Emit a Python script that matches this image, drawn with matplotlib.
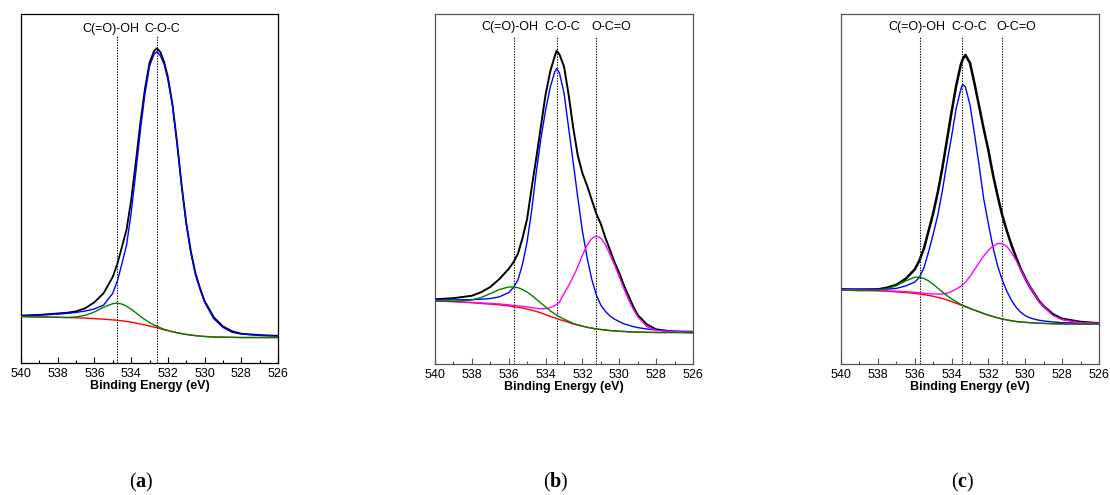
"""O 1s XPS fits, three panels (a), (b), (c): measured envelope + fitted components."""
import matplotlib

matplotlib.use("Agg")
import matplotlib.pyplot as plt
from matplotlib.ticker import MultipleLocator

plt.rcParams["font.family"] = ["Liberation Sans", "DejaVu Sans"]
plt.rcParams["mathtext.fontset"] = "custom"
plt.rcParams["mathtext.rm"] = "Liberation Serif"
plt.rcParams["mathtext.bf"] = "Liberation Serif:bold"

# ---- panel (a) ------------------------------------------------------------
E_A = [540, 539, 538, 537.5, 537, 536.5, 536, 535.5, 535, 534.75, 534.5, 534.25,
       534, 533.75, 533.5, 533.25, 533, 532.75, 532.6, 532.4, 532.2, 532, 531.75,
       531.5, 531.25, 531, 530.75, 530.5, 530.25, 530, 529.5, 529, 528.5, 528,
       527, 526]
A_RAW = [13.6, 13.8, 14.2, 14.4, 14.8, 15.7, 17.4, 20.0, 24.7, 28.4, 33.3, 38.2,
         46.7, 57.4, 68.7, 78.5, 86.0, 89.4, 90.2, 89.0, 86.2, 82.0, 74.2, 63.3,
         51.0, 40.3, 32.1, 25.8, 21.5, 17.8, 13.1, 10.5, 9.1, 8.4, 8.0, 7.8]
A_COC = [13.5, 13.7, 14.0, 14.2, 14.5, 14.9, 15.5, 16.6, 20.0, 23.5, 28.5, 33.8,
         43.0, 54.4, 66.5, 77.0, 85.0, 88.5, 89.2, 88.0, 85.5, 81.2, 73.7, 62.8,
         50.5, 39.8, 31.6, 25.3, 21.1, 17.4, 12.7, 10.2, 8.8, 8.3, 7.9, 7.7]
A_COOH = [13.3, 13.2, 13.11, 13.06, 13.21, 13.66, 14.62, 15.99, 17.01, 17.15, 16.89,
          16.28, 15.44, 14.42, 13.4, 12.43, 11.59, 10.9, 10.53, 10.06, 9.65, 9.34,
          8.99, 8.67, 8.4, 8.2, 8.0, 7.85, 7.7, 7.6, 7.45, 7.4, 7.35, 7.3, 7.3, 7.3]
A_BG = [13.3, 13.2, 13.1, 13.0, 12.95, 12.85, 12.7, 12.55, 12.35, 12.25, 12.1, 11.9,
        11.7, 11.45, 11.2, 10.9, 10.6, 10.3, 10.1, 9.8, 9.5, 9.25, 8.95, 8.65, 8.4,
        8.2, 8.0, 7.85, 7.7, 7.6, 7.45, 7.4, 7.35, 7.3, 7.3, 7.3]
A_LINES = [534.75, 532.6]
A_LABELS = ["C(=O)-OH", "C-O-C"]
A_LABEL_X = [535.1, 532.3]

# ---- panels (b) and (c) share one energy grid --------------------------------
E_BC = [540, 539, 538, 537.5, 537, 536.5, 536, 535.75, 535.5, 535.25, 535, 534.75,
        534.5, 534.25, 534, 533.75, 533.5, 533.4, 533.25, 533, 532.75, 532.5,
        532.25, 532, 531.75, 531.5, 531.25, 531, 530.75, 530.5, 530.25, 530,
        529.75, 529.5, 529.25, 529, 528.5, 528, 527, 526]

B_RAW = [18.5, 18.8, 19.5, 20.5, 22.0, 24.3, 27.2, 29.0, 31.5, 36.0, 41.5, 50.5,
         59.0, 68.0, 77.0, 83.5, 88.0, 89.5, 88.5, 85.0, 77.0, 67.5, 59.5, 54.5,
         51.0, 47.0, 43.0, 40.0, 36.0, 32.5, 29.0, 26.0, 22.5, 19.5, 16.5, 14.0,
         11.3, 9.9, 9.2, 9.0]
B_COC = [18.3, 18.3, 18.4, 18.5, 18.7, 19.2, 20.4, 21.8, 24.0, 28.5, 35.0, 44.0,
         55.0, 64.5, 72.5, 79.0, 83.5, 84.4, 83.2, 77.5, 67.5, 57.5, 47.5, 38.0,
         30.5, 24.3, 19.8, 16.8, 15.0, 13.7, 12.8, 12.1, 11.5, 11.1, 10.7, 10.4,
         10.0, 9.7, 9.4, 9.3]
B_COOH = [18.0, 17.9, 18.3, 19.0, 20.1, 21.3, 22.0, 22.0, 21.8, 21.3, 20.5, 19.6,
          18.5, 17.4, 16.3, 15.2, 14.3, 14.0, 13.5, 12.8, 12.2, 11.6, 11.2, 10.85,
          10.5, 10.25, 10.0, 9.85, 9.7, 9.55, 9.45, 9.35, 9.3, 9.2, 9.15, 9.1,
          9.05, 9.0, 9.0, 9.0]
B_OCO = [18.05, 17.9, 17.6, 17.45, 17.3, 17.15, 16.9, 16.75, 16.6, 16.5, 16.3,
         16.1, 15.9, 15.8, 15.8, 16.1, 16.7, 17.0, 17.7, 20.1, 22.4, 24.95, 27.8,
         31.1, 33.9, 35.85, 36.6, 35.95, 34.1, 31.15, 28.25, 24.85, 21.5, 18.4,
         15.75, 13.5, 10.65, 9.6, 9.2, 9.1]
B_BG = [18.0, 17.8, 17.5, 17.3, 17.1, 16.9, 16.6, 16.4, 16.2, 16.0, 15.7, 15.4,
        15.0, 14.6, 14.1, 13.6, 13.2, 13.0, 12.7, 12.3, 11.9, 11.45, 11.1, 10.8,
        10.5, 10.25, 10.0, 9.85, 9.7, 9.55, 9.45, 9.35, 9.3, 9.2, 9.15, 9.1, 9.05,
        9.0, 9.0, 9.0]
B_LINES = [535.7, 533.4, 531.25]
B_LABEL_X = [535.93, 533.08, 530.42]

C_RAW = [21.3, 21.2, 21.3, 21.8, 22.6, 24.3, 27.0, 29.5, 33.0, 38.0, 43.0, 49.0,
         56.0, 64.0, 72.0, 79.5, 85.5, 87.0, 88.3, 86.0, 80.0, 73.5, 67.0, 61.0,
         54.0, 48.0, 42.5, 38.0, 34.0, 30.5, 27.2, 24.5, 22.0, 20.0, 18.0, 16.5,
         14.2, 12.9, 12.0, 11.6]
C_COC = [21.4, 21.4, 21.4, 21.4, 21.6, 22.3, 23.4, 24.7, 27.5, 32.0, 37.0, 42.5,
         49.5, 57.5, 65.0, 73.0, 78.5, 79.9, 79.2, 74.0, 65.5, 56.5, 47.0, 40.0,
         33.3, 28.0, 24.0, 20.8, 18.2, 16.2, 14.8, 13.8, 13.2, 12.8, 12.5, 12.3,
         12.0, 11.8, 11.7, 11.6]
C_COOH = [21.1, 21.0, 21.1, 21.5, 22.4, 23.7, 24.8, 24.8, 24.45, 23.75, 22.8, 21.7,
          20.6, 19.55, 18.6, 17.8, 17.05, 16.8, 16.45, 15.9, 15.4, 14.9, 14.4,
          13.95, 13.55, 13.2, 12.85, 12.6, 12.35, 12.15, 12.0, 11.9, 11.8, 11.7,
          11.65, 11.6, 11.5, 11.45, 11.4, 11.4]
C_OCO = [21.15, 21.1, 21.0, 20.9, 20.8, 20.65, 20.5, 20.35, 20.2, 20.1, 20.0, 20.0,
         20.0, 20.2, 20.7, 21.4, 22.2, 22.6, 23.4, 25.0, 27.0, 29.0, 30.9, 32.5,
         33.7, 34.4, 34.4, 33.6, 31.8, 29.6, 27.1, 24.4, 22.0, 19.9, 18.0, 16.5,
         13.9, 12.7, 11.8, 11.6]
C_BG = [21.1, 21.0, 20.9, 20.8, 20.6, 20.4, 20.2, 20.0, 19.8, 19.6, 19.35, 19.05,
        18.7, 18.3, 17.85, 17.35, 16.85, 16.65, 16.35, 15.85, 15.35, 14.9, 14.4,
        13.95, 13.55, 13.2, 12.85, 12.6, 12.35, 12.15, 12.0, 11.9, 11.8, 11.7,
        11.65, 11.6, 11.5, 11.45, 11.4, 11.4]
C_LINES = [535.73, 533.42, 531.28]
C_LABEL_X = [535.88, 533.06, 530.47]

BC_LABELS = ["C(=O)-OH", "C-O-C", "O-C=O"]
PANEL_TAGS = ["a", "b", "c"]


def draw_panel(ax, energy, raw, coc, cooh, oco, bg, lines, label_x, labels,
               line_top, label_y, frame, raw_lw):
    ax.plot(energy, raw, color="black", lw=raw_lw, zorder=2)
    ax.plot(energy, coc, color="#0000ff", lw=1.0, zorder=3)
    ax.plot(energy, bg, color="#ff0000", lw=1.0, zorder=4)
    if oco is not None:
        ax.plot(energy, oco, color="#ff00ff", lw=1.0, zorder=5)
    ax.plot(energy, cooh, color="#008000", lw=1.0, zorder=6)

    ax.vlines(lines, 0, line_top, colors="black", linestyles=(0, (1.2, 1.2)),
              lw=0.8, zorder=1)
    for x, lab in zip(label_x, labels):
        ax.text(x, label_y, lab, ha="center", va="center", fontsize=9,
                transform=ax.get_xaxis_transform())

    ax.set_xlim(540, 526)
    ax.set_ylim(0, 100)
    ax.xaxis.set_major_locator(MultipleLocator(2))
    ax.xaxis.set_minor_locator(MultipleLocator(1))
    ax.tick_params(axis="x", which="major", direction="in", length=4, width=0.8,
                   labelsize=9, pad=3.5, color=frame)
    ax.tick_params(axis="x", which="minor", direction="in", length=2.5,
                   width=0.8, color=frame)
    ax.set_yticks([])
    for s in ax.spines.values():
        s.set_color(frame)
        s.set_linewidth(0.9)
    ax.set_xlabel("Binding Energy (eV)", fontsize=9, fontweight="bold",
                  labelpad=0)


fig = plt.figure(figsize=(11.1, 4.95), dpi=100)
ax_a = fig.add_axes([21 / 1110, 132 / 495, 257 / 1110, 349 / 495])
ax_b = fig.add_axes([435 / 1110, 131 / 495, 258 / 1110, 350 / 495])
ax_c = fig.add_axes([841 / 1110, 131 / 495, 258 / 1110, 350 / 495])

draw_panel(ax_a, E_A, A_RAW, A_COC, A_COOH, None, A_BG, A_LINES, A_LABEL_X,
           A_LABELS, 94, 0.957, "black", 1.3)
draw_panel(ax_b, E_BC, B_RAW, B_COC, B_COOH, B_OCO, B_BG, B_LINES, B_LABEL_X,
           BC_LABELS, 93.4, 0.963, "#555555", 1.4)
draw_panel(ax_c, E_BC, C_RAW, C_COC, C_COOH, C_OCO, C_BG, C_LINES, C_LABEL_X,
           BC_LABELS, 93.7, 0.963, "#555555", 1.8)

for tag, xc in zip(PANEL_TAGS, [141, 556, 963]):
    fig.text(xc / 1110, 13 / 495, "($\\mathbf{%s}$)" % tag, ha="center",
             va="center", fontsize=14.5, family="Liberation Serif")

fig.savefig("out.png", dpi=100, facecolor="white")
